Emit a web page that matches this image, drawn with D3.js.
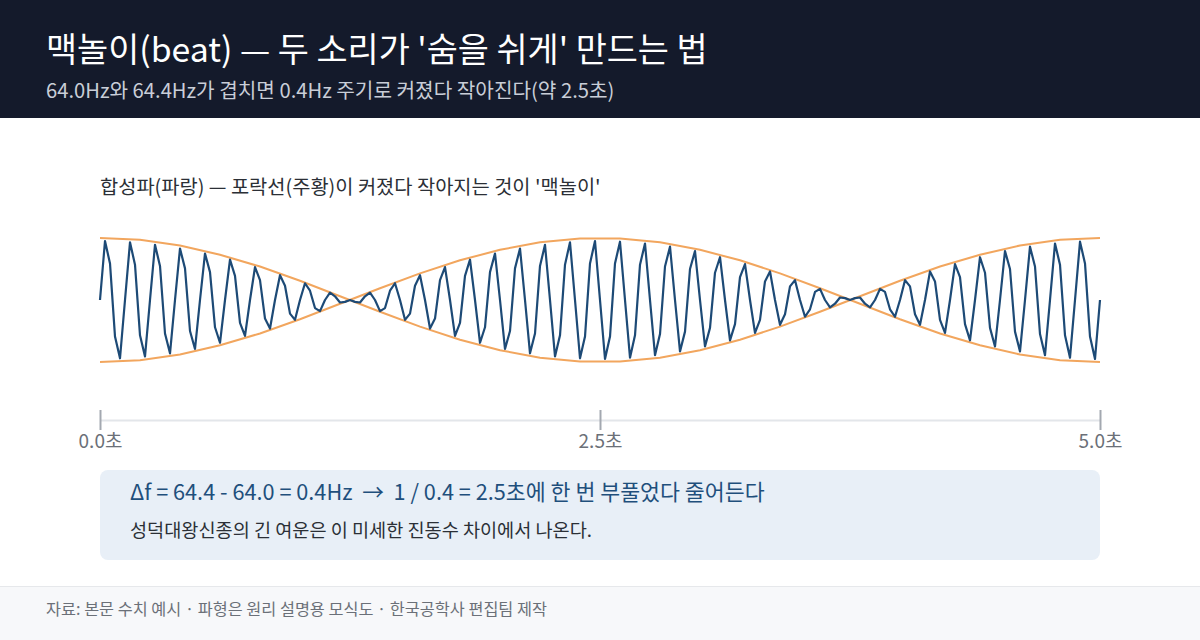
<!DOCTYPE html>
<html>
<head>
<meta charset="utf-8">
<script src="https://cdn.jsdelivr.net/npm/d3@7"></script>
<style>
  html, body { margin: 0; padding: 0; background: #fff; }
  svg { display: block; font-family: "Noto Sans CJK KR", "Noto Sans", sans-serif; }
</style>
</head>
<body>
<svg id="chart" width="1200" height="640"></svg>
<script>
// tones and beat
var toneA = 64.0, toneB = 64.4;
var duration = 5;

// composite wave, sampled every 0.025s (0 .. 5s), normalised amplitude
var waveSamples = [
  0, 0.95, 0.59, -0.59, -0.94,  0, 0.93, 0.57, -0.57, -0.91,
  0, 0.89, 0.55, -0.54, -0.86,  0, 0.83, 0.51, -0.50, -0.79,
  0, 0.75, 0.45, -0.44, -0.69,  0, 0.65, 0.39, -0.37, -0.58,
  0, 0.53, 0.32, -0.30, -0.46,  0, 0.40, 0.23, -0.22, -0.32,
  0, 0.27, 0.15, -0.13, -0.18,  0, 0.12, 0.06, -0.04, -0.03,
  0, -0.03, -0.04, 0.06, 0.12,  0, -0.18, -0.13, 0.15, 0.27,
  0, -0.32, -0.22, 0.23, 0.40,  0, -0.46, -0.30, 0.32, 0.53,
  0, -0.58, -0.37, 0.39, 0.65,  0, -0.69, -0.44, 0.45, 0.75,
  0, -0.79, -0.50, 0.51, 0.83,  0, -0.86, -0.54, 0.55, 0.89,
  0, -0.91, -0.57, 0.57, 0.93,  0, -0.94, -0.59, 0.59, 0.95,
  0, -0.95, -0.59, 0.59, 0.94,  0, -0.93, -0.57, 0.57, 0.91,
  0, -0.89, -0.55, 0.54, 0.86,  0, -0.83, -0.51, 0.50, 0.79,
  0, -0.75, -0.45, 0.44, 0.69,  0, -0.65, -0.39, 0.37, 0.58,
  0, -0.53, -0.32, 0.30, 0.46,  0, -0.40, -0.23, 0.22, 0.32,
  0, -0.27, -0.15, 0.13, 0.18,  0, -0.12, -0.06, 0.04, 0.03,
  0, 0.03, 0.04, -0.06, -0.12,  0, 0.18, 0.13, -0.15, -0.27,
  0, 0.32, 0.22, -0.23, -0.40,  0, 0.46, 0.30, -0.32, -0.53,
  0, 0.58, 0.37, -0.39, -0.65,  0, 0.69, 0.44, -0.45, -0.75,
  0, 0.79, 0.50, -0.51, -0.83,  0, 0.86, 0.54, -0.55, -0.89,
  0, 0.91, 0.57, -0.57, -0.93,  0, 0.94, 0.59, -0.59, -0.95,
  0
];
var waveStep = 0.025;

// envelope, sampled every 0.2s
var envelopeSamples = [
  1, 0.97, 0.88, 0.73, 0.54, 0.31, 0.06, -0.19, -0.43, -0.64, -0.81, -0.93, -0.99,
  -0.99, -0.93, -0.81, -0.64, -0.43, -0.19, 0.06, 0.31, 0.54, 0.73, 0.88, 0.97, 1
];
var envStep = 0.2;

var tickValues = [0, 2.5, 5];
var tickLabels = ["0.0초", "2.5초", "5.0초"];

var W = 1200, H = 640;
var svg = d3.select("#chart");

// header band
svg.append("rect").attr("x", 0).attr("y", 0).attr("width", W).attr("height", 118).attr("fill", "#141a2b");
svg.append("text").attr("x", 46).attr("y", 62)
  .attr("fill", "#ffffff").attr("font-size", 33.8).attr("font-weight", 400)
  .text("맥놀이(beat) — 두 소리가 '숨을 쉬게' 만드는 법");
svg.append("text").attr("x", 46).attr("y", 98)
  .attr("fill", "#c9ced8").attr("font-size", 20.2)
  .text(toneA.toFixed(1) + "Hz와 " + toneB.toFixed(1) + "Hz가 겹치면 0.4Hz 주기로 커졌다 작아진다(약 2.5초)");

svg.append("text").attr("x", 100).attr("y", 194)
  .attr("fill", "#2b2f36").attr("font-size", 19.8)
  .text("합성파(파랑) — 포락선(주황)이 커졌다 작아지는 것이 '맥놀이'");

var x = d3.scaleLinear().domain([0, duration]).range([100, 1100]);
var y = d3.scaleLinear().domain([-1, 1]).range([362, 238]);

// envelope (upper and lower)
var envLine = d3.line().x(function(d, i) { return x(i * envStep); }).y(function(d) { return y(d); });
svg.append("path").datum(envelopeSamples)
  .attr("d", envLine).attr("fill", "none").attr("stroke", "#f2a65e").attr("stroke-width", 2);
svg.append("path").datum(envelopeSamples.map(function(v) { return -v; }))
  .attr("d", envLine).attr("fill", "none").attr("stroke", "#f2a65e").attr("stroke-width", 2);

// composite wave
var waveLine = d3.line().x(function(d, i) { return x(i * waveStep); }).y(function(d) { return y(d); });
svg.append("path").datum(waveSamples)
  .attr("d", waveLine).attr("fill", "none").attr("stroke", "#1d4a76")
  .attr("stroke-width", 2.2).attr("stroke-linejoin", "round");

// time axis
var axis = svg.append("g").attr("transform", "translate(0,420)")
  .call(d3.axisBottom(x).tickValues(tickValues).tickSize(0).tickFormat(function(d, i) { return tickLabels[i]; }));
axis.select(".domain").attr("stroke", "#e3e6ea").attr("stroke-width", 2);
axis.selectAll(".tick line").attr("y1", -10).attr("y2", 10).attr("stroke", "#a3a8b0").attr("stroke-width", 2);
axis.selectAll(".tick text").attr("y", 28).attr("dy", 0).attr("fill", "#6b7078")
  .attr("font-size", 19).attr("font-family", "\"Noto Sans CJK KR\", sans-serif");

// info box
svg.append("rect").attr("x", 100).attr("y", 470).attr("width", 1000).attr("height", 90)
  .attr("rx", 8).attr("fill", "#e8eff7");
svg.append("text").attr("x", 130).attr("y", 500)
  .attr("fill", "#1f4f7c").attr("font-size", 21.7).attr("xml:space", "preserve")
  .text("Δf = 64.4 - 64.0 = 0.4Hz  →  1 / 0.4 = 2.5초에 한 번 부풀었다 줄어든다");
svg.append("text").attr("x", 130).attr("y", 537)
  .attr("fill", "#2b2f36").attr("font-size", 18.6)
  .text("성덕대왕신종의 긴 여운은 이 미세한 진동수 차이에서 나온다.");

// footer
svg.append("rect").attr("x", 0).attr("y", 586).attr("width", W).attr("height", 54).attr("fill", "#f7f8fa");
svg.append("line").attr("x1", 0).attr("x2", W).attr("y1", 586.5).attr("y2", 586.5).attr("stroke", "#e6e8eb");
svg.append("text").attr("x", 46).attr("y", 615)
  .attr("fill", "#6b7078").attr("font-size", 16.3)
  .text("자료: 본문 수치 예시 · 파형은 원리 설명용 모식도 · 한국공학사 편집팀 제작");
</script>
</body>
</html>
